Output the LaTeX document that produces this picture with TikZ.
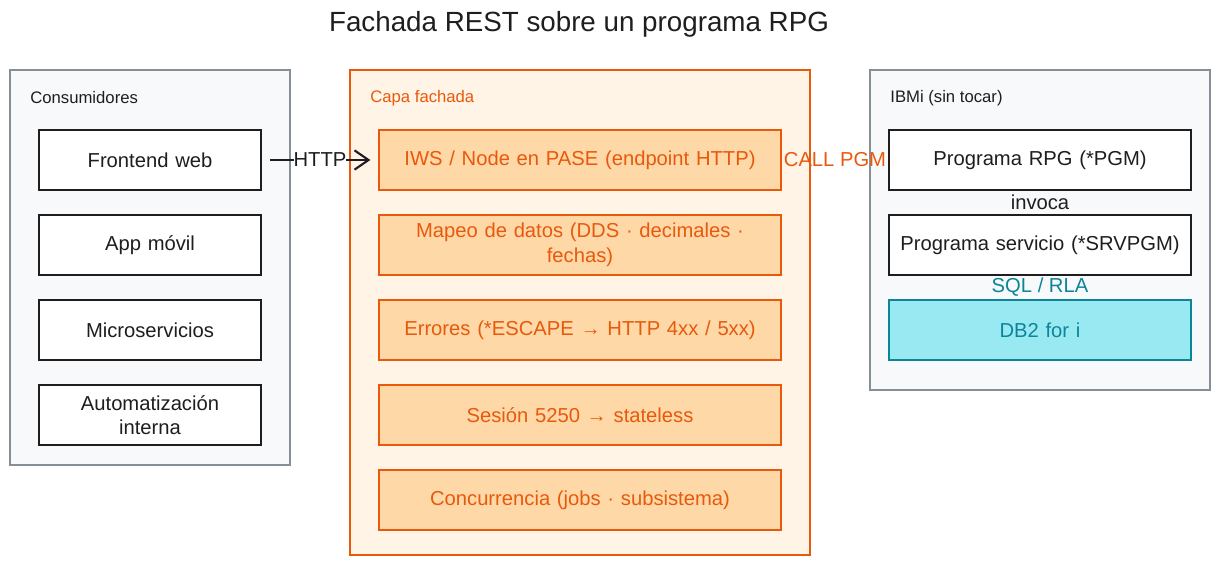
\documentclass[tikz,border=0pt]{standalone}
\usepackage{fontspec}
\setmainfont{Liberation Sans}
\usetikzlibrary{positioning,arrows.meta}
\definecolor{panelgray}{HTML}{F8F9FA}
\definecolor{panelline}{HTML}{868E96}
\definecolor{facadefill}{HTML}{FFF4E6}
\definecolor{facadeline}{HTML}{E8590C}
\definecolor{layerfill}{HTML}{FFD8A8}
\definecolor{dbfill}{HTML}{99E9F2}
\definecolor{dbline}{HTML}{0C8599}
\definecolor{ink}{HTML}{1E1E1E}

\begin{document}
\begin{tikzpicture}[x=0.02cm,y=-0.02cm,
    panel/.style={draw=panelline,fill=panelgray,line width=0.9pt,inner sep=0pt},
    facade/.style={draw=facadeline,fill=facadefill,line width=0.9pt,inner sep=0pt},
    client/.style={draw=ink,fill=white,line width=0.9pt,minimum width=4.4cm,minimum height=1.2cm,
      text width=4.2cm,align=center,font=\fontsize{11.5}{14}\selectfont,text=ink},
    layer/.style={draw=facadeline,fill=layerfill,line width=0.9pt,minimum width=8cm,minimum height=1.2cm,
      text width=7.8cm,align=center,font=\fontsize{11.5}{14}\selectfont,text=facadeline},
    ibm/.style={draw=ink,fill=white,line width=0.9pt,minimum width=6cm,minimum height=1.2cm,
      text width=5.8cm,align=center,font=\fontsize{11.5}{14}\selectfont,text=ink},
    caption/.style={anchor=west,inner sep=0pt,font=\fontsize{9.5}{11}\selectfont},
    edgelabel/.style={font=\fontsize{11.5}{14}\selectfont,inner sep=0pt}]
  \useasboundingbox (0,0) rectangle (1220,565);
  % title
  \node[font=\fontsize{15.8}{19}\selectfont,text=ink] (title) at (579,24) {Fachada REST sobre un programa RPG};
  % containers
  \node[panel,minimum width=5.6cm,minimum height=7.9cm] (consumers) at (150,267.5) {};
  \node[facade,minimum width=9.2cm,minimum height=9.7cm] (facadebox) at (580,312.5) {};
  \node[panel,minimum width=6.8cm,minimum height=6.4cm] (ibmi) at (1040,230) {};
  \node[caption,text=ink] (consumerscap) at (30,98) {Consumidores};
  \node[caption,text=facadeline] (facadecap) at (370,98) {Capa fachada};
  \node[caption,text=ink] (ibmicap) at (890,98) {IBMi (sin tocar)};
  % consumers
  \node[client] (web) at (150,160) {Frontend web};
  \node[client] (app) at (150,245) {App móvil};
  \node[client] (micro) at (150,330) {Microservicios};
  \node[client] (auto) at (150,415) {Automatización\\interna};
  % facade layers
  \node[layer] (iws) at (580,160) {IWS / Node en PASE (endpoint HTTP)};
  \node[layer] (mapping) at (580,245) {Mapeo de datos (DDS · decimales ·\\fechas)};
  \node[layer] (errors) at (580,330) {Errores (*ESCAPE → HTTP 4xx / 5xx)};
  \node[layer] (session) at (580,415) {Sesión 5250 → stateless};
  \node[layer] (jobs) at (580,500) {Concurrencia (jobs · subsistema)};
  % IBM i side
  \node[ibm] (rpg) at (1040,160) {Programa RPG (*PGM)};
  \node[ibm] (srv) at (1040,245) {Programa servicio (*SRVPGM)};
  \node[ibm,draw=dbline,fill=dbfill,text=dbline] (db) at (1040,330) {DB2 for i};
  % connectors
  \draw[ink,line width=1.2pt,-{Straight Barb[length=8pt,width=11pt]},shorten <=0.16cm,shorten >=0.16cm]
    (web) -- node[edgelabel,fill=white,text=ink] {HTTP} (iws);
  \path (iws) -- node[edgelabel,text=facadeline] {CALL PGM} (rpg);
  \path (rpg) -- node[edgelabel,text=ink] {invoca} (srv);
  \path (srv) -- node[edgelabel,text=dbline] {SQL / RLA} (db);
\end{tikzpicture}
\end{document}
